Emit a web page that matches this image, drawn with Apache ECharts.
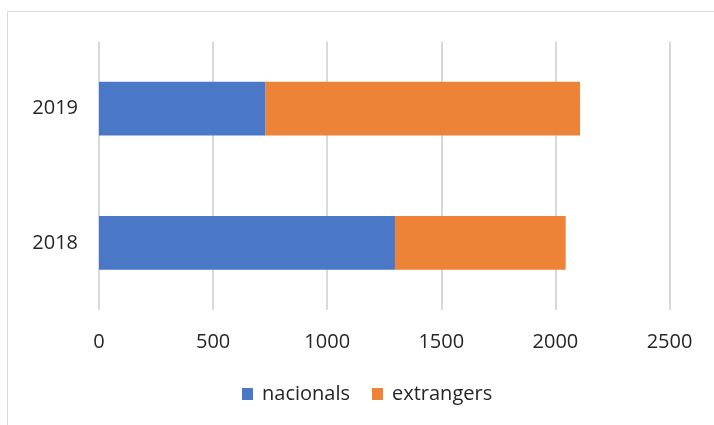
<!DOCTYPE html>
<html><head><meta charset="utf-8">
<script src="https://cdn.jsdelivr.net/npm/echarts@6/dist/echarts.min.js"></script>
<style>html,body{margin:0;padding:0;background:#fff}#c{width:714px;height:425px}</style>
</head><body><div id="c"></div>
<script>
const categories = ['2018', '2019'];
const nacionals = [1297, 730];
const extrangers = [748, 1378];
const xTicks = [0, 500, 1000, 1500, 2000, 2500];

const chart = echarts.init(document.getElementById('c'));
const font = 'Open Sans';
chart.setOption({
  animation: false,
  graphic: [{type:'rect', shape:{x:7.5,y:11.5,width:720,height:430}, style:{fill:'none', stroke:'#d9d9d9', lineWidth:1}, z:-1}],
  grid: {left: 99, right: 44.5, top: 41.5, height: 268.6},
  legend: {left: 242, top: 384, padding: 0, itemWidth: 11, itemHeight: 12, itemGap: 22, icon: 'rect',
    textStyle: {fontFamily: font, fontSize: 20, color: '#262626', padding: [0,0,0,4]}, data: ['nacionals', 'extrangers']},
  xAxis: {type: 'value', min: xTicks[0], max: xTicks[xTicks.length-1], interval: 500,
    axisLine: {show: false}, axisTick: {show: false},
    splitLine: {lineStyle: {color: '#d9d9d9', width: 2}},
    axisLabel: {fontFamily: font, fontSize: 20, color: '#262626', margin: 22, formatter: v => String(v)}},
  yAxis: {type: 'category', data: categories,
    axisLine: {show: false}, axisTick: {show: false},
    axisLabel: {fontFamily: font, fontSize: 20, color: '#262626', margin: 21}},
  series: [
    {name: 'nacionals', type: 'bar', stack: 't', data: nacionals, barCategoryGap: '60%',
     itemStyle: {color: '#4a78c6'}},
    {name: 'extrangers', type: 'bar', stack: 't', data: extrangers,
     itemStyle: {color: '#ed8336'}}
  ]
});
</script></body></html>
